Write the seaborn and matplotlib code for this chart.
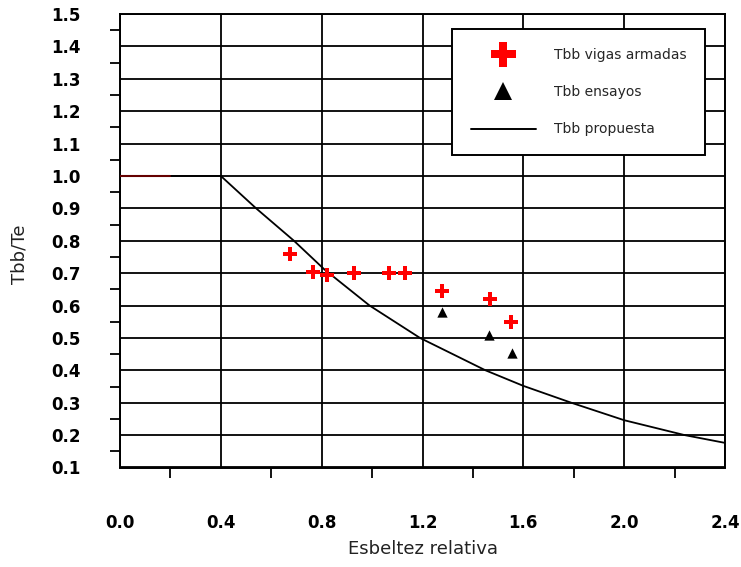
import matplotlib
matplotlib.use("Agg")
import matplotlib.pyplot as plt
from matplotlib.lines import Line2D
from matplotlib.ticker import MultipleLocator, FormatStrFormatter
import seaborn as sns
import pandas as pd

# Proposed reduction curve Tbb/Te vs relative slenderness
curve_lambda = [0.0, 0.4, 0.54, 0.69, 0.81, 0.99, 1.19, 1.45, 1.60, 1.79, 2.0, 2.24, 2.4]
curve_ratio = [1.0, 1.0, 0.90, 0.80, 0.712, 0.60, 0.50, 0.40, 0.352, 0.30, 0.246, 0.20, 0.176]

# Plate girder results
girder_lambda = [0.675, 0.767, 0.82, 0.93, 1.067, 1.131, 1.279, 1.466, 1.552]
girder_ratio = [0.758, 0.702, 0.694, 0.699, 0.699, 0.699, 0.646, 0.620, 0.548]

# Test results
test_lambda = [1.279, 1.462, 1.554]
test_ratio = [0.579, 0.509, 0.453]

# Plateau segment up to 0.2
plateau_lambda = [0.0, 0.2]
plateau_ratio = [1.0, 1.0]

x_ticks = [0.0, 0.4, 0.8, 1.2, 1.6, 2.0, 2.4]
y_ticks = [0.1, 0.2, 0.3, 0.4, 0.5, 0.6, 0.7, 0.8, 0.9, 1.0, 1.1, 1.2, 1.3, 1.4, 1.5]

labels = ["Tbb vigas armadas", "Tbb ensayos", "Tbb propuesta"]

sns.set_theme(style="white")
plt.rcParams["font.family"] = ["DejaVu Sans"]

fig = plt.figure(figsize=(7.41, 5.67), dpi=100)
ax = fig.add_axes([120 / 741, 1 - 467.5 / 567, 605 / 741, 453.5 / 567])

curve_df = pd.DataFrame({"x": curve_lambda, "y": curve_ratio})
sns.lineplot(data=curve_df, x="x", y="y", ax=ax, color="black", lw=1.3,
             sort=False, estimator=None, zorder=4)
ax.plot(plateau_lambda, plateau_ratio, color="#650000", lw=1.5, zorder=5)

girder_df = pd.DataFrame({"x": girder_lambda, "y": girder_ratio})
sns.scatterplot(data=girder_df, x="x", y="y", ax=ax, marker="P", color="red",
                s=100, linewidth=0, zorder=6)
test_df = pd.DataFrame({"x": test_lambda, "y": test_ratio})
sns.scatterplot(data=test_df, x="x", y="y", ax=ax, marker="^", color="black",
                s=55, linewidth=0, zorder=6)

ax.set_xlim(0, 2.4)
ax.set_ylim(0.1, 1.5)
ax.set_xticks(x_ticks)
ax.set_yticks(y_ticks)
ax.xaxis.set_minor_locator(MultipleLocator(0.2))
ax.yaxis.set_minor_locator(MultipleLocator(0.05))
ax.xaxis.set_major_formatter(FormatStrFormatter("%.1f"))
ax.yaxis.set_major_formatter(FormatStrFormatter("%.1f"))

ax.grid(True, which="major", color="black", lw=1.3)
ax.set_axisbelow(True)
for s in ax.spines.values():
    s.set_color("black")
    s.set_linewidth(1.4)

ax.tick_params(axis="both", which="major", direction="out", length=14.4,
               width=1.3, color="black", labelsize=12)
ax.tick_params(axis="both", which="minor", direction="out", length=7.2,
               width=1.3, color="black")
ax.tick_params(axis="x", which="major", pad=19)
ax.tick_params(axis="y", which="major", pad=14)
ax.tick_params(axis="x", which="minor", bottom=True)
ax.tick_params(axis="y", which="minor", left=True)
for lab in ax.get_xticklabels() + ax.get_yticklabels():
    lab.set_fontweight("bold")
    lab.set_color("black")

ax.set_xlabel("Esbeltez relativa", fontsize=13, color="#222222", labelpad=6)
ax.set_ylabel("Tbb/Te", fontsize=13, color="#222222")
ax.yaxis.set_label_coords(-0.152, 0.47)

handles = [
    Line2D([], [], marker="P", color="red", ls="", ms=18, mew=0),
    Line2D([], [], marker="^", color="black", ls="", ms=13, mew=0),
    Line2D([], [], color="black", lw=1.4),
]
leg = ax.legend(handles, labels, loc="upper left",
                bbox_to_anchor=((452 - 120) / 605, (467.5 - 29) / 453.5),
                fontsize=10, frameon=True, fancybox=False, framealpha=1,
                edgecolor="black", borderpad=1.35, labelspacing=1.68,
                handlelength=4.7, handletextpad=1.3, borderaxespad=0)
leg.get_frame().set_linewidth(1.4)
leg.set_zorder(10)

fig.savefig("out.png", dpi=100)
